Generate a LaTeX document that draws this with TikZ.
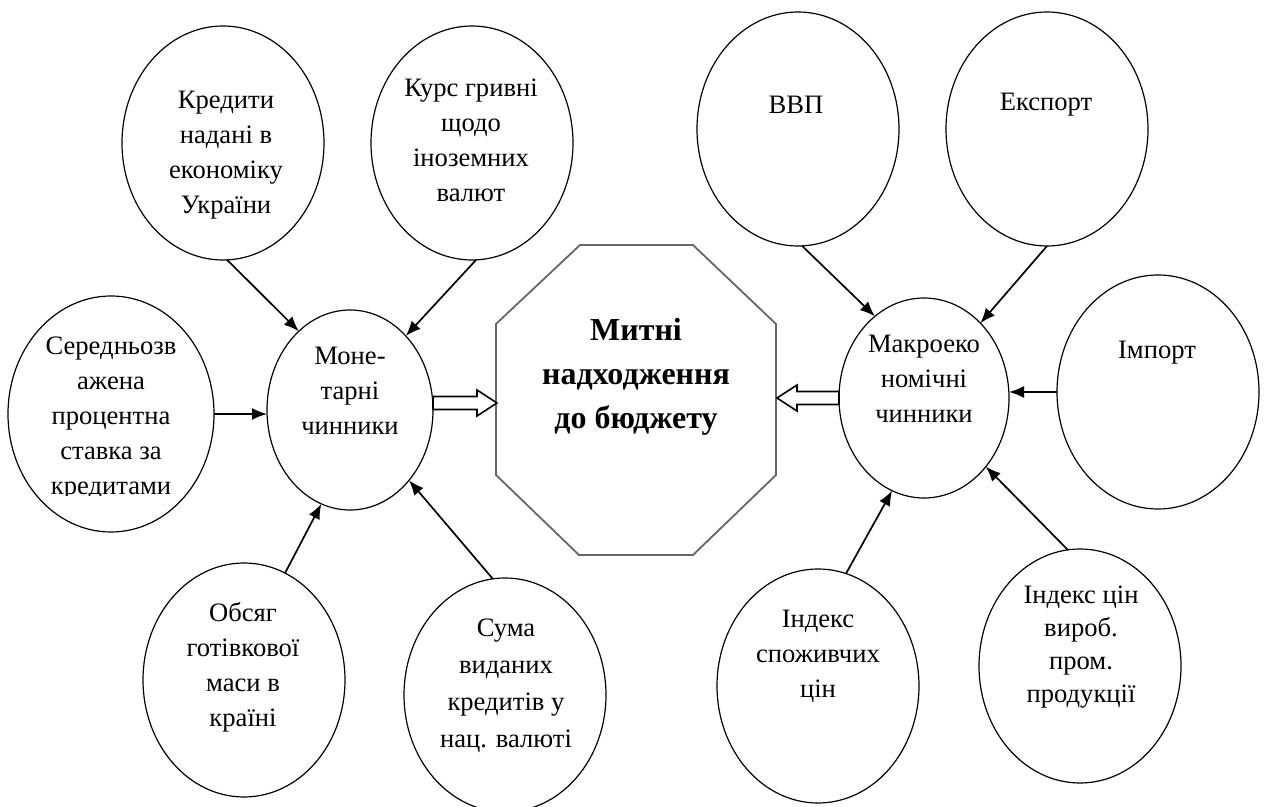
\documentclass[tikz,border=0pt]{standalone}
\usepackage{fontspec}
\setmainfont{Liberation Serif}
\usetikzlibrary{shapes.geometric,arrows.meta,calc}
\begin{document}
\begin{tikzpicture}[x=0.5pt,y=-0.5pt,
 ell/.style={ellipse,draw,line width=0.6pt,inner sep=0pt,outer sep=0pt,minimum width=101pt,minimum height=117pt},
 txt/.style={align=center,inner sep=0pt,font=\fontsize{13.3}{17.5}\selectfont},
 btxt/.style={align=center,inner sep=0pt,font=\fontsize{16}{22}\selectfont\bfseries},
 conn/.style={draw,line width=0.85pt,-{Latex[length=7.5pt,width=6pt]}},
 hollow/.style={draw,line width=0.8pt,fill=white,line join=miter},
 octline/.style={draw=black!60,line width=0.9pt}]
\useasboundingbox (0,0) rectangle (1265,807);
% ellipses
\node[ell] (kred) at (223,143) {};
\node[ell] (kurs) at (472,143) {};
\node[ell,minimum width=103pt,minimum height=118pt] (ser) at (111,414) {};
\node[ell,minimum width=83pt,minimum height=100pt] (mon) at (350,410) {};
\node[ell] (obs) at (244,680) {};
\node[ell] (sum) at (505,695) {};
\node[ell] (vvp) at (798,129) {};
\node[ell] (eksp) at (1047,129) {};
\node[ell] (imp) at (1158,392) {};
\node[ell,minimum width=85pt,minimum height=100pt] (mak) at (924,398) {};
\node[ell] (isp) at (818,686) {};
\node[ell] (ivyr) at (1080,666) {};
% octagon
\node[minimum width=140pt,minimum height=155pt,inner sep=0pt,outer sep=0pt] (oct) at (636,400) {};
\draw[octline] ($(oct.north west)+(84,0)$) -- ($(oct.north east)+(-83,0)$) -- ($(oct.north east)+(0,79)$) -- ($(oct.south east)+(0,-80)$) -- ($(oct.south east)+(-83,0)$) -- ($(oct.south west)+(83,0)$) -- ($(oct.south west)+(0,-80)$) -- ($(oct.north west)+(0,79)$) -- cycle;
\node[btxt] (t-oct) at (636,377) {Митні\\надходження\\до бюджету};
% texts
\node[txt] (t-kred) at (226,155) {Кредити\\надані в\\економіку\\України};
\node[txt] (t-kurs) at (471,140) {Курс гривні\\щодо\\іноземних\\валют};
\begin{scope}
\clip (0,330) rectangle (230,496);
\node[txt] (t-ser) at (111,419) {Середньозв\\ажена\\процентна\\ставка за\\кредитами};
\end{scope}
\node[txt] (t-mon) at (350,391) {Моне-\\тарні\\чинники};
\node[txt] (t-obs) at (243,667) {Обсяг\\готівкової\\маси в\\країні};
\node[txt,font=\fontsize{13.3}{18.5}\selectfont] (t-sum) at (506,686) {Сума\\виданих\\кредитів у\\нац. валюті};
\node[txt] (t-vvp) at (796,105) {ВВП};
\node[txt] (t-eksp) at (1046,105) {Експорт};
\node[txt] (t-imp) at (1157,353) {Імпорт};
\node[txt] (t-mak) at (924,379) {Макроеко\\номічні\\чинники};
\node[txt] (t-isp) at (818,656) {Індекс\\споживчих\\цін};
\node[txt,font=\fontsize{13.3}{16.5}\selectfont] (t-ivyr) at (1081,647) {Індекс цін\\вироб.\\пром.\\продукції};
% connectors
\draw[conn] (kred.-88) -- (mon.123);
\draw[conn] (kurs.-88) -- (mon.53);
\draw[conn] (ser.east) -- (ser.east -| mon.west);
\draw[conn] (obs.69) -- (mon.-107);
\draw[conn] (sum.96) -- (mon.-50);
\draw[conn] (vvp.-88) -- (mak.121);
\draw[conn] (eksp.-90) -- (mak.53);
\draw[conn] (imp.west) -- (imp.west -| mak.east);
\draw[conn] (isp.76) -- (mak.-109);
\draw[conn] (ivyr.96) -- (mak.-48);
% hollow arrows
\draw[hollow] ($(oct.west)+(1,3)$) -- ++(-20,-13) -- ++(0,6.5) -- ($(mon.east)+(0,-13.5)$) -- ++(0,13) -- ($(oct.west)+(-19,9.5)$) -- ++(0,6.5) -- cycle;
\draw[hollow] ($(oct.east)+(1,-2)$) -- ++(20,-13) -- ++(0,6.5) -- ($(mak.west)+(0,-6.5)$) -- ++(0,13) -- ($(oct.east)+(21,4.5)$) -- ++(0,6.5) -- cycle;
\end{tikzpicture}
\end{document}
